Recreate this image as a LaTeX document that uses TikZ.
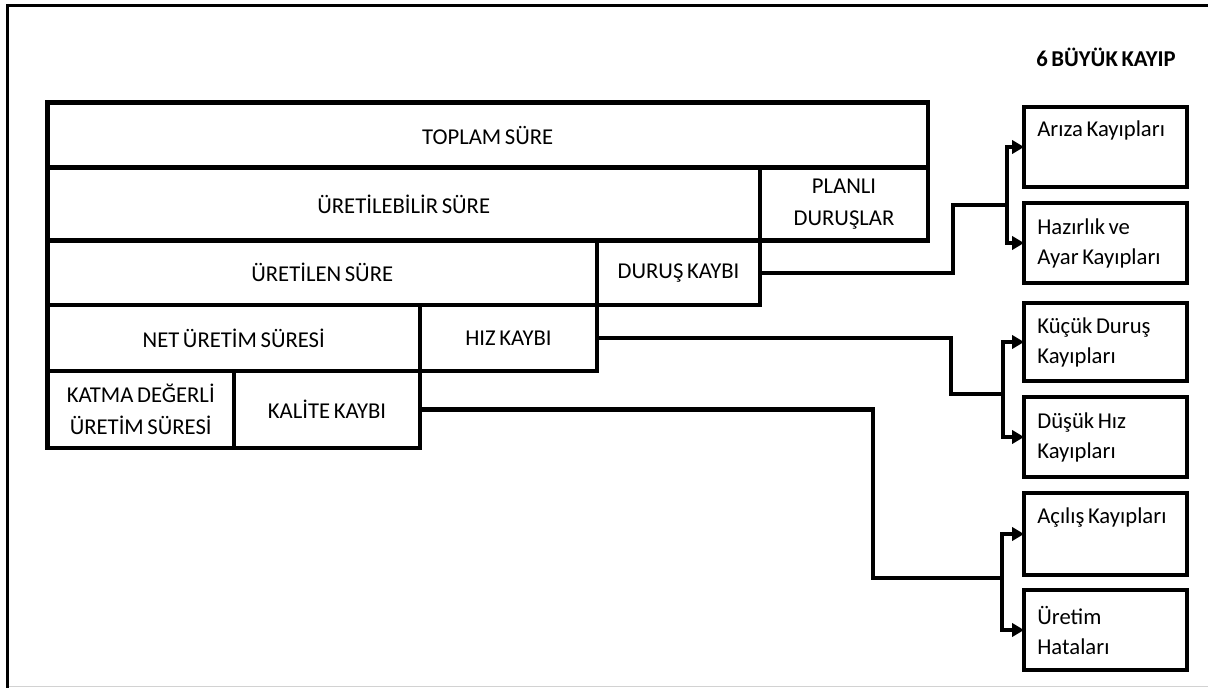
\documentclass[tikz,border=0pt]{standalone}
\usepackage{fontspec}
\setmainfont{Carlito}[WordSpace=0.7]
\usetikzlibrary{arrows.meta}

\tikzset{every picture/.style={line width=0.75pt}}
\tikzset{
  cell/.style={draw, line width=3.25pt, anchor=north west, outer sep=0pt, inner sep=0pt, align=center, font=\fontsize{17}{23.5}\selectfont},
  lossbox/.style={draw, line width=3.25pt, anchor=north west, outer sep=0pt, inner xsep=10pt, inner ysep=0pt, align=flush left, text width=102.25pt, minimum width=122.25pt, minimum height=60pt, font=\fontsize{17}{22.5}\selectfont},
  oneline/.style={text depth=27pt},
  conn/.style={line width=3.25pt},
  arr/.style={-{Triangle[length=9pt,width=10pt]}}
}

\begin{document}
\begin{tikzpicture}[x=0.75pt,y=0.75pt,yscale=-1,xscale=1]
\useasboundingbox (0,0) rectangle (1208,688);

%Frame
\draw [line width=2.25pt]  (7.5,688) -- (7.5,5.5) -- (1208,5.5) ;
\draw [color={rgb, 255:red, 210; green, 210; blue, 210 }, line width=0.75pt]  (9,686.5) -- (1208,686.5) ;

% Title
\node (title) at (1106,57) {\fontsize{17}{20}\selectfont\bfseries 6 BÜYÜK KAYIP};

%Time table
\node [cell, minimum width=660.375pt, minimum height=48.75pt] (toplam) at (47.5,102.5) {TOPLAM SÜRE};
\node [cell, minimum width=534.375pt, minimum height=54.75pt] (uretilebilir) at (47.5,167.5) {ÜRETİLEBİLİR SÜRE};
\node [cell, minimum width=126pt, minimum height=54.75pt] (planli) at (760,167.5) {PLANLI\\DURUŞLAR};
\node [cell, minimum width=412.125pt, minimum height=48.375pt] (uretilen) at (47.5,240.5) {ÜRETİLEN SÜRE};
\node [cell, minimum width=122.25pt, minimum height=48.375pt] (durus) at (597,240.5) {DURUŞ KAYBI};
\node [cell, minimum width=279.375pt, minimum height=49.5pt] (net) at (47.5,305) {NET ÜRETİM SÜRESİ};
\node [cell, minimum width=132.75pt, minimum height=49.5pt] (hiz) at (420,305) {HIZ KAYBI};
\node [cell, minimum width=139.875pt, minimum height=57.75pt] (katma) at (47.5,371) {KATMA DEĞERLİ\\ÜRETİM SÜRESİ};
\node [cell, minimum width=139.5pt, minimum height=57.75pt] (kalite) at (234,371) {KALİTE KAYBI};

%6 losses
\node [lossbox, oneline] (ariza) at (1024,107) {Arıza Kayıpları};
\node [lossbox] (hazirlik) at (1024,203) {Hazırlık ve\\Ayar Kayıpları};
\node [lossbox, minimum height=58.5pt] (kucuk) at (1024,303) {Küçük Duruş\\Kayıpları};
\node [lossbox] (dusuk) at (1024,397) {Düşük Hız\\Kayıpları};
\node [lossbox, oneline, minimum height=61.5pt] (acilis) at (1024,493) {Açılış Kayıpları};
\node [lossbox] (uretim) at (1024,590) {Üretim\\Hataları};

%Connectors
\coordinate (durus-fork) at (1007,205);
\coordinate (hiz-fork) at (1003,394);
\coordinate (kalite-fork) at (1002,578);

\draw [conn]  (durus.east) -- ++(193,0) |- (durus-fork) ;
\draw [conn, arr]  (durus-fork) |- (ariza.west) ;
\draw [conn, arr]  (durus-fork) |- (hazirlik.west) ;

\draw [conn]  (hiz.east) -- ++(354,0) |- (hiz-fork) ;
\draw [conn, arr]  (hiz-fork) |- (kucuk.west) ;
\draw [conn, arr]  (hiz-fork) |- (dusuk.west) ;

\draw [conn]  (kalite.east) -- ++(453,0) |- (kalite-fork) ;
\draw [conn, arr]  (kalite-fork) |- (acilis.west) ;
\draw [conn, arr]  (kalite-fork) |- (uretim.west) ;

\end{tikzpicture}
\end{document}
